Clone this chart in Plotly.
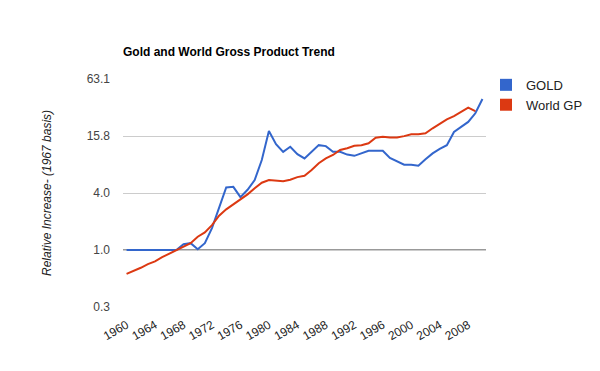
import plotly.graph_objects as go

years_gold = list(range(1960, 2011))
gold = [1.0, 1.0, 1.0, 1.0, 1.0, 1.0, 1.0, 1.0,
        1.15, 1.18, 1.02, 1.18, 1.7, 2.8, 4.55, 4.62, 3.6, 4.3, 5.45, 8.85,
        17.9, 13.0, 10.8, 12.2, 10.2, 9.2, 10.7, 12.7, 12.4, 10.8,
        10.8, 10.1, 9.8, 10.4, 11.1, 11.1, 11.1, 9.3, 8.5, 7.9,
        7.9, 7.7, 9.0, 10.4, 11.6, 12.7, 17.5, 19.9, 22.3, 27.5, 38.9]

years_gdp = list(range(1960, 2010))
world_gp = [0.56, 0.60, 0.65, 0.71, 0.76, 0.84, 0.91, 1.0,
            1.08, 1.18, 1.38, 1.53, 1.83, 2.3, 2.68, 3.03, 3.36, 3.85, 4.46, 5.11,
            5.45, 5.4, 5.3, 5.5, 5.85, 6.05, 6.95, 8.2, 9.2, 10.0,
            11.3, 11.8, 12.5, 12.7, 13.3, 15.2, 15.6, 15.3, 15.3, 15.8,
            16.5, 16.5, 16.9, 19.1, 21.5, 23.7, 25.7, 28.6, 31.5, 29.0]

y_tickvals = [10 ** -0.6, 1.0, 10 ** 0.6, 10 ** 1.2, 10 ** 1.8]
y_ticktext = ["0.3", "1.0", "4.0", "15.8", "63.1"]
x_tickvals = list(range(1960, 2009, 4))
baseline = 1.0

c_gold = "#3366cc"
c_gdp = "#dc3912"

fig = go.Figure()
fig.add_trace(go.Scatter(x=years_gold, y=gold, mode="lines", name="GOLD",
                         line=dict(color=c_gold, width=2), showlegend=False))
fig.add_trace(go.Scatter(x=years_gdp, y=world_gp, mode="lines", name="World GP",
                         line=dict(color=c_gdp, width=2), showlegend=False))
# legend swatches
fig.add_trace(go.Scatter(x=[None], y=[None], mode="markers", name="GOLD",
                         marker=dict(symbol="square", size=12, color=c_gold)))
fig.add_trace(go.Scatter(x=[None], y=[None], mode="markers", name="World GP",
                         marker=dict(symbol="square", size=12, color=c_gdp)))

fig.add_shape(type="line", xref="paper", x0=0, x1=1, yref="y", y0=baseline, y1=baseline,
              line=dict(color="#333333", width=1), layer="below")

fig.update_layout(
    width=600, height=371,
    margin=dict(l=123, r=107, t=79, b=64),
    paper_bgcolor="white", plot_bgcolor="white",
    font=dict(family="Liberation Sans, Arial, sans-serif", size=12, color="#222222"),
    title=dict(text="<b>Gold and World Gross Product Trend</b>", x=0, xref="paper",
               xanchor="left", y=1 - 52 / 371, yref="container", yanchor="middle",
               font=dict(size=12, color="#000000")),
    legend=dict(x=1.0, xanchor="left", y=1.04, yanchor="top",
                font=dict(size=13, color="#222222"), tracegroupgap=0,
                itemsizing="constant", bgcolor="rgba(0,0,0,0)"),
    showlegend=True,
)

fig.update_xaxes(range=[1959.5, 2010.5], tickvals=x_tickvals, tickangle=-30,
                 showgrid=False, zeroline=False, showline=False, ticks="",
                 ticklabelstandoff=8,
                 tickfont=dict(size=12, color="#222222"))
fig.update_yaxes(type="log", range=[-0.6, 1.8], tickvals=y_tickvals, ticktext=y_ticktext,
                 showgrid=True, gridcolor="#cccccc", gridwidth=1, zeroline=False,
                 showline=False, ticks="", ticklabelstandoff=12,
                 tickfont=dict(size=12, color="#444444"),
                 title=dict(text="<i>Relative Increase- (1967 basis)</i>", standoff=32,
                            font=dict(size=12, color="#222222")))

fig.write_html("out.html", post_script="document.body.style.margin='0';",
               config={"displayModeBar": False})
